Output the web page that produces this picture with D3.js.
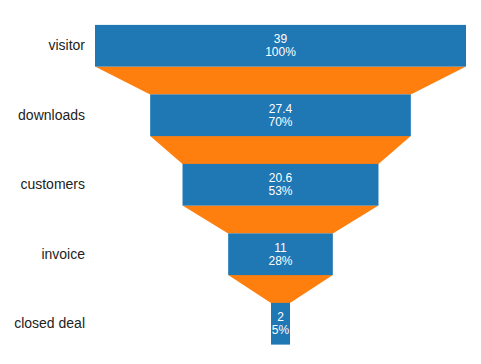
<!DOCTYPE html>
<html>
<head>
<meta charset="utf-8">
<script src="https://cdn.jsdelivr.net/npm/d3@7"></script>
<style>
  body { margin: 0; background: #fff; }
  svg { display: block; font-family: "Liberation Sans", Arial, sans-serif; }
</style>
</head>
<body>
<div id="chart"></div>
<script>
// funnel stages and values
var stages = ["visitor", "downloads", "customers", "invoice", "closed deal"];
var values = [39, 27.4, 20.6, 11, 2];

var width = 481, height = 364;

var svg = d3.select("#chart")
    .append("svg")
        .attr("width", width)
        .attr("height", height);

// band scale for stages, linear scale centred on the funnel axis
var y = d3.scaleBand()
    .domain(stages)
    .range([11, 358.5])
    .paddingInner(0.4)
    .paddingOuter(0.2);

var maxVal = d3.max(values);
var x = d3.scaleLinear()
    .domain([-maxVal / 2, maxVal / 2])
    .range([95, 466]);

var data = stages.map(function(s, i) {
    return {stage: s, value: values[i], pct: Math.round(values[i] / values[0] * 100)};
});

// connectors between bars
var links = d3.pairs(data);
svg.append("g")
    .selectAll("path")
    .data(links)
    .enter()
    .append("path")
    .attr("fill", "#ff7f0e")
    .attr("d", function(p) {
        var a = p[0], b = p[1];
        var y0 = y(a.stage) + y.bandwidth(), y1 = y(b.stage);
        return "M" + x(-a.value / 2) + "," + y0 +
               "L" + x(a.value / 2) + "," + y0 +
               "L" + x(b.value / 2) + "," + y1 +
               "L" + x(-b.value / 2) + "," + y1 + "Z";
    });

// bars
var bars = svg.append("g")
    .selectAll("g")
    .data(data)
    .enter()
    .append("g");

bars.append("rect")
    .attr("x", function(d) { return x(-d.value / 2); })
    .attr("y", function(d) { return y(d.stage); })
    .attr("width", function(d) { return x(d.value / 2) - x(-d.value / 2); })
    .attr("height", y.bandwidth())
    .attr("fill", "#1f77b4");

var labels = bars.append("text")
    .attr("text-anchor", "middle")
    .attr("fill", "#fff")
    .attr("font-size", 12);

labels.append("tspan")
    .attr("x", x(0))
    .attr("y", function(d) { return y(d.stage) + y.bandwidth() / 2 - 2.5; })
    .text(function(d) { return d.value; });

labels.append("tspan")
    .attr("x", x(0))
    .attr("y", function(d) { return y(d.stage) + y.bandwidth() / 2 + 10.5; })
    .text(function(d) { return d.pct + "%"; });

// stage axis
var axis = svg.append("g")
    .attr("transform", "translate(85,0)")
    .call(d3.axisLeft(y).tickSize(0).tickPadding(0));
axis.select(".domain").remove();
axis.selectAll("text")
    .attr("font-size", 14)
    .attr("font-family", "\"Liberation Sans\", Arial, sans-serif")
    .attr("fill", "#222");
</script>
</body>
</html>
